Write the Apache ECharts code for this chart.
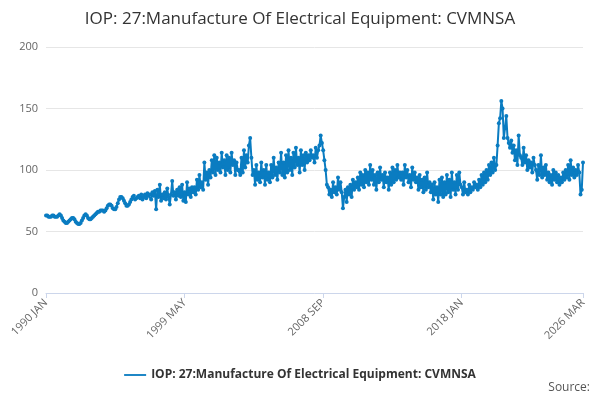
<!DOCTYPE html>
<html>
<head>
<meta charset="utf-8">
<script src="https://cdn.jsdelivr.net/npm/echarts@6/dist/echarts.min.js"></script>
<style>html,body{margin:0;padding:0;background:#fff}#main{width:600px;height:400px}</style>
</head>
<body>
<div id="main"></div>
<script>
var seriesName = 'IOP: 27:Manufacture Of Electrical Equipment: CVMNSA';
var months = ['JAN','FEB','MAR','APR','MAY','JUN','JUL','AUG','SEP','OCT','NOV','DEC'];
var yearlyValues = [
  [63,63,62,62,62,63,63,62,62,62,63,64],
  [63,61,59,58,57,57,58,59,60,61,61,60],
  [58,57,56,56,57,59,61,63,64,63,61,60],
  [60,61,62,63,64,65,66,66,67,67,67,66],
  [67,69,71,72,72,71,69,68,68,70,73,76],
  [78,78,77,75,73,71,71,72,74,76,78,79],
  [76,77,78,79,77,80,76,78,80,77,81,79],
  [80,76,82,79,83,68,84,78,88,75,80,77],
  [82,76,85,78,72,80,91,79,82,76,84,79],
  [86,78,88,75,82,74,90,80,85,78,86,82],
  [86,80,92,84,96,86,90,84,106,92,98,88],
  [100,94,108,98,112,96,110,100,106,98,114,102],
  [108,96,112,100,110,98,114,104,108,96,106,100],
  [100,96,110,98,116,102,112,106,120,126,110,96],
  [100,88,104,92,98,90,106,94,100,88,104,92],
  [98,90,104,94,110,96,102,92,106,98,114,96],
  [106,94,112,98,116,100,110,96,114,102,118,104],
  [110,98,116,104,112,100,114,106,112,108,116,110],
  [112,106,118,110,116,120,128,122,116,108,100,88],
  [86,80,84,78,90,82,86,80,94,84,90,82],
  [69,78,84,74,86,80,88,78,92,84,90,86],
  [94,84,98,88,96,86,100,90,98,88,104,92],
  [100,88,96,84,98,90,102,92,96,86,98,90],
  [94,84,98,88,102,90,100,92,104,94,98,92],
  [98,88,104,94,100,90,96,86,102,92,98,90],
  [94,84,96,86,92,82,94,84,98,86,90,82],
  [88,76,90,80,86,74,92,80,94,78,90,80],
  [96,82,92,78,98,84,90,80,96,84,98,88],
  [86,80,90,82,84,80,88,82,86,84,90,86],
  [88,84,92,86,96,88,98,90,100,92,104,96],
  [106,98,110,100,104,120,138,142,156,150,126,134],
  [144,126,122,118,124,114,120,108,116,104,128,112],
  [110,104,118,106,112,100,108,102,106,98,110,104],
  [100,92,104,96,112,94,102,96,104,92,98,90],
  [96,88,100,92,98,90,96,88,94,90,98,92],
  [100,94,104,92,108,96,102,94,100,96,104,98],
  [80,84,106]
];
var tickLabels = ['1990 JAN','1999 MAY','2008 SEP','2018 JAN','2026 MAR'];

var categories = [], values = [];
yearlyValues.forEach(function(row, i){
  row.forEach(function(v, m){
    categories.push((1990 + i) + ' ' + months[m]);
    values.push(v);
  });
});

var chart = echarts.init(document.getElementById('main'));
chart.setOption({
  title: {text: seriesName, left: 'center', top: 6,
    textStyle: {fontFamily: 'Open Sans', fontWeight: 'normal', fontSize: 17, color: '#333'}},
  legend: {bottom: 14, icon: 'path://M0,4H24V6H0Z', itemWidth: 22, itemHeight: 10,
    textStyle: {fontFamily: 'Open Sans', fontWeight: 'bold', fontSize: 12, color: '#333'}},
  graphic: [{type: 'text', right: 10, bottom: 6,
    style: {text: 'Source:', fontFamily: 'Open Sans', fontSize: 12, fill: '#555'}}],
  grid: {left: 46, right: 17, top: 47, bottom: 107},
  xAxis: {
    type: 'category', data: categories, boundaryGap: false,
    axisLine: {lineStyle: {color: '#ccd6eb'}},
    axisTick: {show: true, alignWithLabel: true, interval: function(i, v){ return tickLabels.indexOf(v) >= 0; }, lineStyle: {color: '#ccd6eb'}},
    axisLabel: {rotate: 45, color: '#666', fontFamily: 'Open Sans', fontSize: 11,
      interval: function(i, v){ return tickLabels.indexOf(v) >= 0; }},
    splitLine: {show: false}
  },
  yAxis: {
    type: 'value', min: 0, max: 200, interval: 50,
    axisLabel: {color: '#666', fontFamily: 'Open Sans', fontSize: 11},
    splitLine: {lineStyle: {color: '#e6e6e6'}}
  },
  series: [{
    name: seriesName, type: 'line', data: values,
    symbol: 'circle', symbolSize: 4, showAllSymbol: true,
    itemStyle: {color: '#0a7cc1'},
    lineStyle: {width: 2, color: '#0a7cc1'}
  }]
});
</script>
</body>
</html>
